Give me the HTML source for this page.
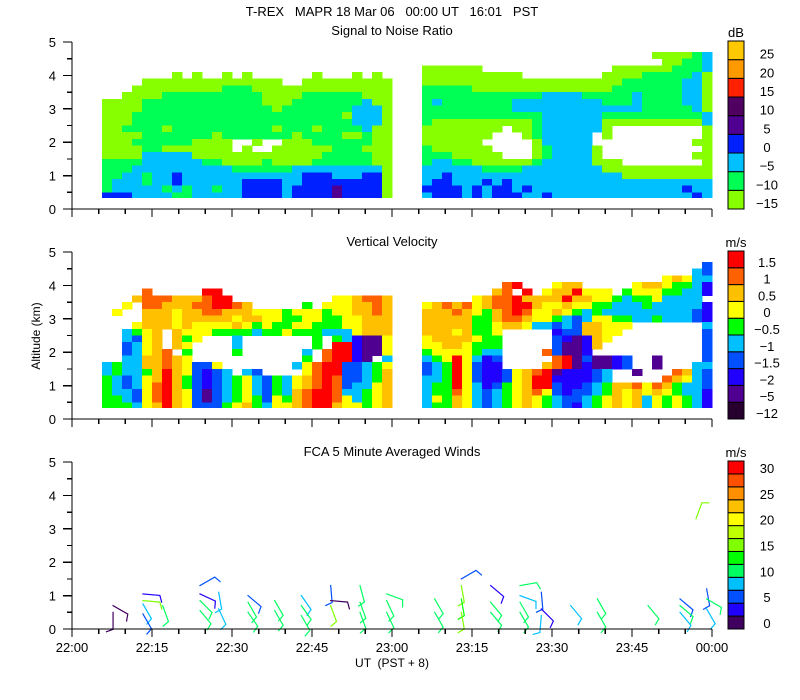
<!DOCTYPE html>
<html><head><meta charset="utf-8"><style>
html,body{margin:0;padding:0;background:#fff;}
svg{display:block;font-family:"Liberation Sans",sans-serif;}
</style></head><body>
<svg id="chart" width="800" height="700" viewBox="0 0 800 700" xmlns="http://www.w3.org/2000/svg">
<text x="392" y="16" font-size="13" text-anchor="middle" xml:space="preserve">T-REX   MAPR 18 Mar 06   00:00 UT   16:01   PST</text>
<text x="392" y="35" font-size="13" text-anchor="middle">Signal to Noise Ratio</text>
<text x="392" y="246" font-size="13" text-anchor="middle">Vertical Velocity</text>
<text x="392" y="456" font-size="13" text-anchor="middle">FCA 5 Minute Averaged Winds</text>
<text x="0" y="0" font-size="12" text-anchor="middle" transform="translate(40,336) rotate(-90)">Altitude (km)</text>
<text x="392" y="667" font-size="12" text-anchor="middle" xml:space="preserve">UT  (PST + 8)</text>
<text x="736" y="37" font-size="13" text-anchor="middle">dB</text>
<text x="736" y="247" font-size="13" text-anchor="middle">m/s</text>
<text x="736" y="457" font-size="13" text-anchor="middle">m/s</text>
</svg>
<script>
// ---- data ----
const snrLevels = ['-15','-10','-5','0','5','10','15','20','25'];
const snrColors = ['#88ff00','#00ff55','#00c0ff','#0020ff','#500090','#500060','#ff2000','#ff9900','#ffc800'];
const velLevels = ['-12','-5','-2','-1.5','-1','-0.5','0','0.5','1','1.5'];
const velColors = ['#280030','#500090','#2000ff','#0050ff','#00c0ff','#00ff00','#ffff00','#ffc000','#ff6000','#ff0000'];
const windLevels = ['0','','5','','10','','15','','20','','25','','30'];
const windColors = ['#400060','#2000ff','#0050ff','#00c0ff','#00ff60','#00ff00','#80ff00','#c0ff00','#ffff00','#ffc000','#ff9000','#ff5000','#ff0000'];
const timeTicks = ['22:00','22:15','22:30','22:45','23:00','23:15','23:30','23:45','00:00'];
const altTicks = [0,1,2,3,4,5];
// heatmap rows: top row = 4.6 km, step 0.2 km downward; '.' = no data
const snrLeft = [
"","","",
".......0.0..0.0......0...0.0.",
"....00000000000000..000000000",
"...00000000011100000000000000",
"..000011111111110000111111000",
"00001111111111110001111111200",
"00001111111111111011111112220",
"00011111111111111111111102220",
"00011111111111111111111112220",
"00111101111111111011101111200",
"00001111111011111110111100100",
"0001111110000..0..00011111100",
"0000110000000.0..000000111000",
"00002222200000000000001111100",
"11112222221100001000011111100",
"11122222222221111112222222220",
"11221223222222222222333222330",
"12221223222222333322333333330",
"12222212122122333323333433330",
"33322221122222333323333433330"];
const snrRight = [
".......................000012",
"........................00112",
"000000.............0000001112",
"0000000000........00001111120",
"00000000000000000000111111220",
"11111000000000000001111111220",
"11111111111122221111121111220",
"12111111122222222211121111220",
"11111111122222222222221111120",
"11111111111122222211111111112",
"10000000000122222200000000002",
"00000000.0012222220.........0",
"0000000...0122222.0.........0",
"000000.....022222..........00",
"1000000....0122220..........0",
"11100000...0122220.........00",
"12211000000122222000........0",
"22222211112222222200000000000",
"22322222222222222222000000000",
"23322232322222222222222222222",
"33332323323222222222222222322",
"23332323332232222222222222232"];
const velLeft = [
"","","","",
"....8.....99.................",
"...7888777899..........667887",
"..6.88777889987.....5.6667787",
".6..7776778877766656665667787",
"....7776777776776655665566777",
"...67776766667656556655566777",
"..4567.7666555545565554446777",
"..4367.756...4.......5.5421167",
"..3467.76....4.......5.992116",
"..34678.5....5......4.8992116",
"..4477876...........5.89921.4",
"454477876336.......4689933456",
"4544579763234.43....689933457",
"54346797532345643546789833457",
"54346897532345643546789834467",
"54436897631345643547899844567",
"55436897631345653657899864567",
"55546797633356754667899766567"];
const velRight = [
"............................3",
"...........................43",
"........................67644",
"........89...677.....677655420",
".......78.9.6779666.566655442",
".....67889777797766545564444",
"67878678899766766554445444442",
"77787657898667654544444444432",
"77777557887665434665544544432",
"777775567764434377666.......42",
"77767556.....2337766........3",
"67777655.....321276.........3",
"66776555.....31127..........3",
"56666544....83112...........3",
"45696423.....89131123..1....3",
"34596322....789121123..1...44",
"3459632236789122234..1...8743",
"4459632236799222234.....87643",
"45596423567993223457786875443",
"45586434567863233457676765442",
"46576434567654334567674656542",
"45576434567654324567674656542"];
// wind barbs: time (minutes after 22:00), altitude (km), staff direction (deg), speed (m/s)
const barbTime = [7.7,7.7,13.3,13.3,13.3,13.3,17,24,24,24,24,27.5,27.5,33,33,33,38,38,43,43,43,48.5,48.5,48.5,54,54,54,59,59,59,68,68,73,73,73,73,78.5,78.5,78.5,84,84,84,84,88,88,88,93.5,98.5,98.5,108,114,114,114,117,119,119,119];
const barbAlt = [0.5,0.7,1.05,0.85,0.75,0.45,0.7,1.3,1.05,0.85,0.55,1.1,0.6,1.0,0.8,0.5,0.85,0.55,1.0,0.7,0.4,1.3,0.85,0.7,1.3,0.8,0.5,1.05,0.85,0.5,0.9,0.5,1.3,0.9,0.5,1.5,1.3,0.8,0.5,1.3,1.0,0.8,0.5,1.1,0.6,0.4,0.7,0.9,0.5,0.7,0.9,0.7,0.5,3.3,1.2,0.9,0.6];
const barbDir = [180,120,95,95,150,150,160,60,115,135,140,170,155,130,150,145,150,150,145,145,150,175,95,160,165,160,160,110,155,155,150,150,170,170,170,60,130,140,140,80,110,150,150,175,135,185,140,150,150,140,130,130,140,20,170,120,150];
const barbSpd = [1,1,4,16,9,5,11,5,4,11,11,9,9,5,10,11,11,11,8,10,10,5,2,15,11,11,11,10,11,11,11,11,15,14,16,5,3,11,11,11,9,11,11,5,4,9,9,11,11,11,5,11,9,16,5,11,9];

// ---- helpers ----
const svg = document.getElementById('chart');
const NS = 'http://www.w3.org/2000/svg';
const X0 = 72, X1 = 712;
const panelBase = [209, 419, 629];
const kmPx = 33.4;
function xScale(min){ return X0 + min * (X1 - X0) / 120; }
function yScale(p, km){ return panelBase[p] - km * kmPx; }
function mk(tag, attrs, parent){
  const e = document.createElementNS(NS, tag);
  for (const k in attrs) e.setAttribute(k, attrs[k]);
  (parent || svg).appendChild(e);
  return e;
}

function drawHeat(p, left, right, colors, name){
  const g = mk('g', {'shape-rendering':'crispEdges'});
  
  
  const segs = [[left, 3], [right, 35]];
  segs.forEach(([rows, c0]) => {
    rows.forEach((row, r) => {
      const top = 4.7 - 0.2 * r;
      const bot = Math.max(0.35, top - 0.2);
      for (let i = 0; i < 29 && i < row.length; i++){
        const ch = row[i];
        if (ch === '.' || ch === ' ') continue;
        const idx = parseInt(ch, 10);
        if (isNaN(idx)) continue;
        const x = X0 + (c0 + i) * 10;
        const y1 = yScale(p, top), y2 = yScale(p, bot);
        const rc = mk('rect', {x: x, y: y1, width: 10.5, height: (y2 - y1) + 0.5, fill: colors[idx]}, g);
        
        
      }
    });
  });
}

function drawAxes(p){
  const g = mk('g', {stroke:'#000', 'stroke-width':1.3, 'shape-rendering':'crispEdges'});
  
  
  const yb = panelBase[p];
  const yl = mk('line', {x1:X0, y1:yScale(p,5), x2:X0, y2:yb}, g);
  
  
  const xl = mk('line', {x1:X0, y1:yb, x2:X1, y2:yb}, g);
  
  
  for (let k = 0; k <= 10; k++){
    const y = yScale(p, k * 0.5);
    mk('line', {x1: X0 - (k % 2 === 0 ? 9 : 5), y1:y, x2:X0, y2:y}, g);
  }
  altTicks.forEach(a => {
    const t = mk('text', {x:56, y:yScale(p,a)+5, 'font-size':13, 'text-anchor':'end', stroke:'none', fill:'#000'});
    
    
    t.textContent = a;
  });
  for (let m = 0; m <= 120; m += 5){
    const x = xScale(m);
    mk('line', {x1:x, y1:yb, x2:x, y2: yb + (m % 15 === 0 ? 8 : 5)}, g);
  }
}

function drawColorbar(p, colors, labels, name){
  const g = mk('g', {});
  
  
  const top = panelBase[p] - 168, bot = panelBase[p];
  const n = colors.length, h = (bot - top) / n;
  for (let i = 0; i < n; i++){
    const y = bot - (i + 1) * h;
    const r = mk('rect', {x:728, y:y, width:16, height:h, fill:colors[i], stroke:'#000', 'stroke-width':1}, g);
    
    
    if (labels[i]){
      const t = mk('text', {x:767, y: y + h - 1, 'font-size':13, 'text-anchor':'middle'}, g);
      
      
      t.textContent = labels[i].replace('-', '\u2212');
    }
  }
}

function drawBarbs(){
  const g = mk('g', {'stroke-width':1.2, fill:'none', 'stroke-linecap':'square'});
  
  
  for (let i = 0; i < barbTime.length; i++){
    const x = xScale(barbTime[i]), y = yScale(2, barbAlt[i]);
    const d = barbDir[i] * Math.PI / 180;
    const L = 17;
    const tx = x + L * Math.sin(d), ty = y - L * Math.cos(d);
    const fd = d + 70 * Math.PI / 180;
    const fx = tx + 7 * Math.sin(fd), fy = ty - 7 * Math.cos(fd);
    const ci = Math.min(12, Math.floor(barbSpd[i] / 2.5));
    const pth = mk('path', {d:`M${x},${y}L${tx},${ty}L${fx},${fy}`, stroke: windColors[ci]}, g);
    
    
  }
}

drawHeat(0, snrLeft, snrRight, snrColors, 'snr-heatmap');
drawHeat(1, velLeft, velRight, velColors, 'velocity-heatmap');
drawBarbs();
[0,1,2].forEach(drawAxes);
drawColorbar(0, snrColors, snrLevels, 'snr-colorbar');
drawColorbar(1, velColors, velLevels, 'velocity-colorbar');
drawColorbar(2, windColors, windLevels, 'winds-colorbar');
timeTicks.forEach((lab, i) => {
  const t = mk('text', {x: xScale(i*15), y: 652, 'font-size':13, 'text-anchor':'middle'});
  
  
  t.textContent = lab;
});
</script>
</body></html>
